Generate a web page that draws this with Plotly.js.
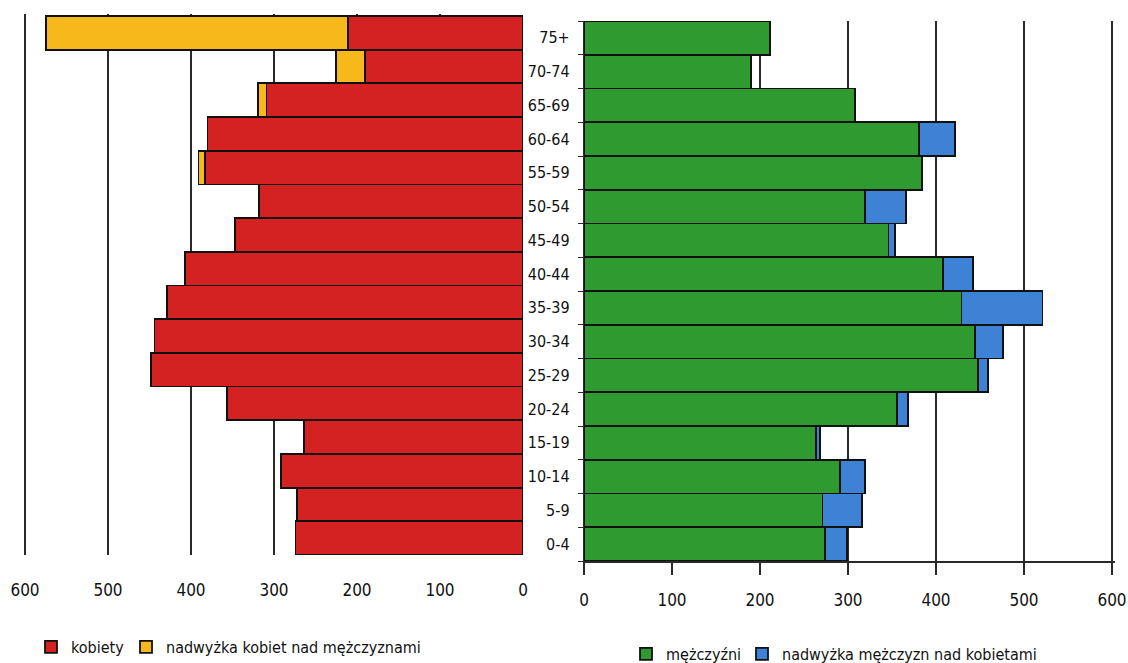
<!DOCTYPE html>
<html>
<head>
<meta charset="utf-8">
<script src="https://cdn.plot.ly/plotly-3.0.1.min.js"></script>
<style>
html,body{margin:0;padding:0;background:#fff;}
#chart{width:1128px;height:663px;}
</style>
</head>
<body>
<div id="chart"></div>
<script>
// Age groups (bottom to top)
const ages = ['0-4','5-9','10-14','15-19','20-24','25-29','30-34','35-39','40-44','45-49','50-54','55-59','60-64','65-69','70-74','75+'];
// Women (red) and excess of women over men (yellow)
const women       = [274, 272, 292, 264, 357, 448, 444, 429, 407, 347, 318, 383, 380, 309, 190, 211];
const womenExcess = [0, 0, 0, 0, 0, 0, 0, 0, 0, 0, 0, 8, 0, 10, 35, 364];
// Men (green) and excess of men over women (blue)
const men         = [274, 271, 291, 264, 356, 448, 444, 429, 408, 346, 319, 384, 381, 308, 190, 211];
const menExcess   = [25, 45, 28, 4, 12, 11, 32, 92, 34, 7, 47, 0, 41, 0, 0, 0];
// Axis ticks
const xTicks = [0, 100, 200, 300, 400, 500, 600];

const FONT = '"DejaVu Sans Condensed", "Liberation Sans", sans-serif';
const W = 1128, H = 663;
const RED = '#d42222', YELLOW = '#f7b81b', GREEN = '#2f9a2f', BLUE = '#3d82d4';
const EDGE = {color: '#111', width: 1.8};

const traces = [
  {type:'bar', orientation:'h', name:'kobiety', y: ages, x: women, xaxis:'x', yaxis:'y',
   marker:{color: RED, line: EDGE}, legend:'legend', hoverinfo:'x+y'},
  {type:'bar', orientation:'h', name:'nadwyżka kobiet nad mężczyznami', y: ages, x: womenExcess, xaxis:'x', yaxis:'y',
   marker:{color: YELLOW, line: EDGE}, legend:'legend2', hoverinfo:'x+y'},
  {type:'bar', orientation:'h', name:'mężczyźni', y: ages, x: men, xaxis:'x2', yaxis:'y2',
   marker:{color: GREEN, line: EDGE}, legend:'legend3', hoverinfo:'x+y'},
  {type:'bar', orientation:'h', name:'nadwyżka mężczyzn nad kobietami', y: ages, x: menExcess, xaxis:'x2', yaxis:'y2',
   marker:{color: BLUE, line: EDGE}, legend:'legend4', hoverinfo:'x+y'}
];

const tickFont = {family: FONT, size: 17, color: '#111'};
const PXL = 498/600;   // left panel px per unit
const PXR = 528/600;   // right panel px per unit
const RMAX = 603;

function leg(xpx, ypx) {
  return {
    orientation:'h', x: xpx/W, xanchor:'left', y: 1-ypx/H, yanchor:'middle',
    font:{family: FONT, size: 16, color:'#111'}, bgcolor:'rgba(0,0,0,0)',
    itemwidth:30, itemclick:false, itemdoubleclick:false
  };
}

const layout = {
  width: W, height: H,
  margin: {l:0, r:0, t:0, b:0, autoexpand:false},
  paper_bgcolor:'#fff', plot_bgcolor:'rgba(0,0,0,0)',
  barmode:'stack', bargap:0,
  font: {family: FONT, color:'#111'},
  xaxis: {
    domain:[(523 - RMAX*PXL)/W, 523/W], range:[RMAX, 0], anchor:'y',
    tickvals: xTicks, ticktext: xTicks.map(String),
    showgrid:true, gridcolor:'#2a2a2a', gridwidth:1.2,
    zeroline:false, showline:false, ticks:'',
    ticklabelstandoff: 23, tickfont: tickFont, fixedrange:true, automargin:false
  },
  yaxis: {
    domain:[1-555/H, 1-14/H], anchor:'x', type:'category',
    range:[-0.5, 15.5 + 2/33.7], showticklabels:false, showgrid:false,
    zeroline:false, showline:false, ticks:'', fixedrange:true, automargin:false
  },
  xaxis2: {
    domain:[584/W, (584 + RMAX*PXR)/W], range:[0, RMAX], anchor:'y2',
    tickvals: xTicks, ticktext: xTicks.map(String),
    showgrid:true, gridcolor:'#2a2a2a', gridwidth:1.2,
    zeroline:false, showline:true, linecolor:'#2a2a2a', linewidth:1.5,
    ticks:'outside', ticklen:12, tickcolor:'#2a2a2a', tickwidth:1.2,
    ticklabelstandoff: 11, tickfont: tickFont, fixedrange:true, automargin:false
  },
  yaxis2: {
    domain:[1-561/H, 1-21/H], anchor:'x2', type:'category',
    range:[-0.5, 15.5], showgrid:false, zeroline:false,
    showline:true, linecolor:'#2a2a2a', linewidth:1.2,
    ticks:'outside', tickson:'boundaries', ticklen:5, tickcolor:'#2a2a2a',
    ticklabelstandoff: 10, tickfont: {family: FONT, size: 16, color:'#111'}, fixedrange:true, automargin:false
  },
  legend:  leg(31, 647),
  legend2: leg(126, 647),
  legend3: leg(626, 654),
  legend4: leg(742, 654),
  showlegend:true
};

Plotly.newPlot('chart', traces, layout, {displayModeBar:false, staticPlot:true});
</script>
</body>
</html>
